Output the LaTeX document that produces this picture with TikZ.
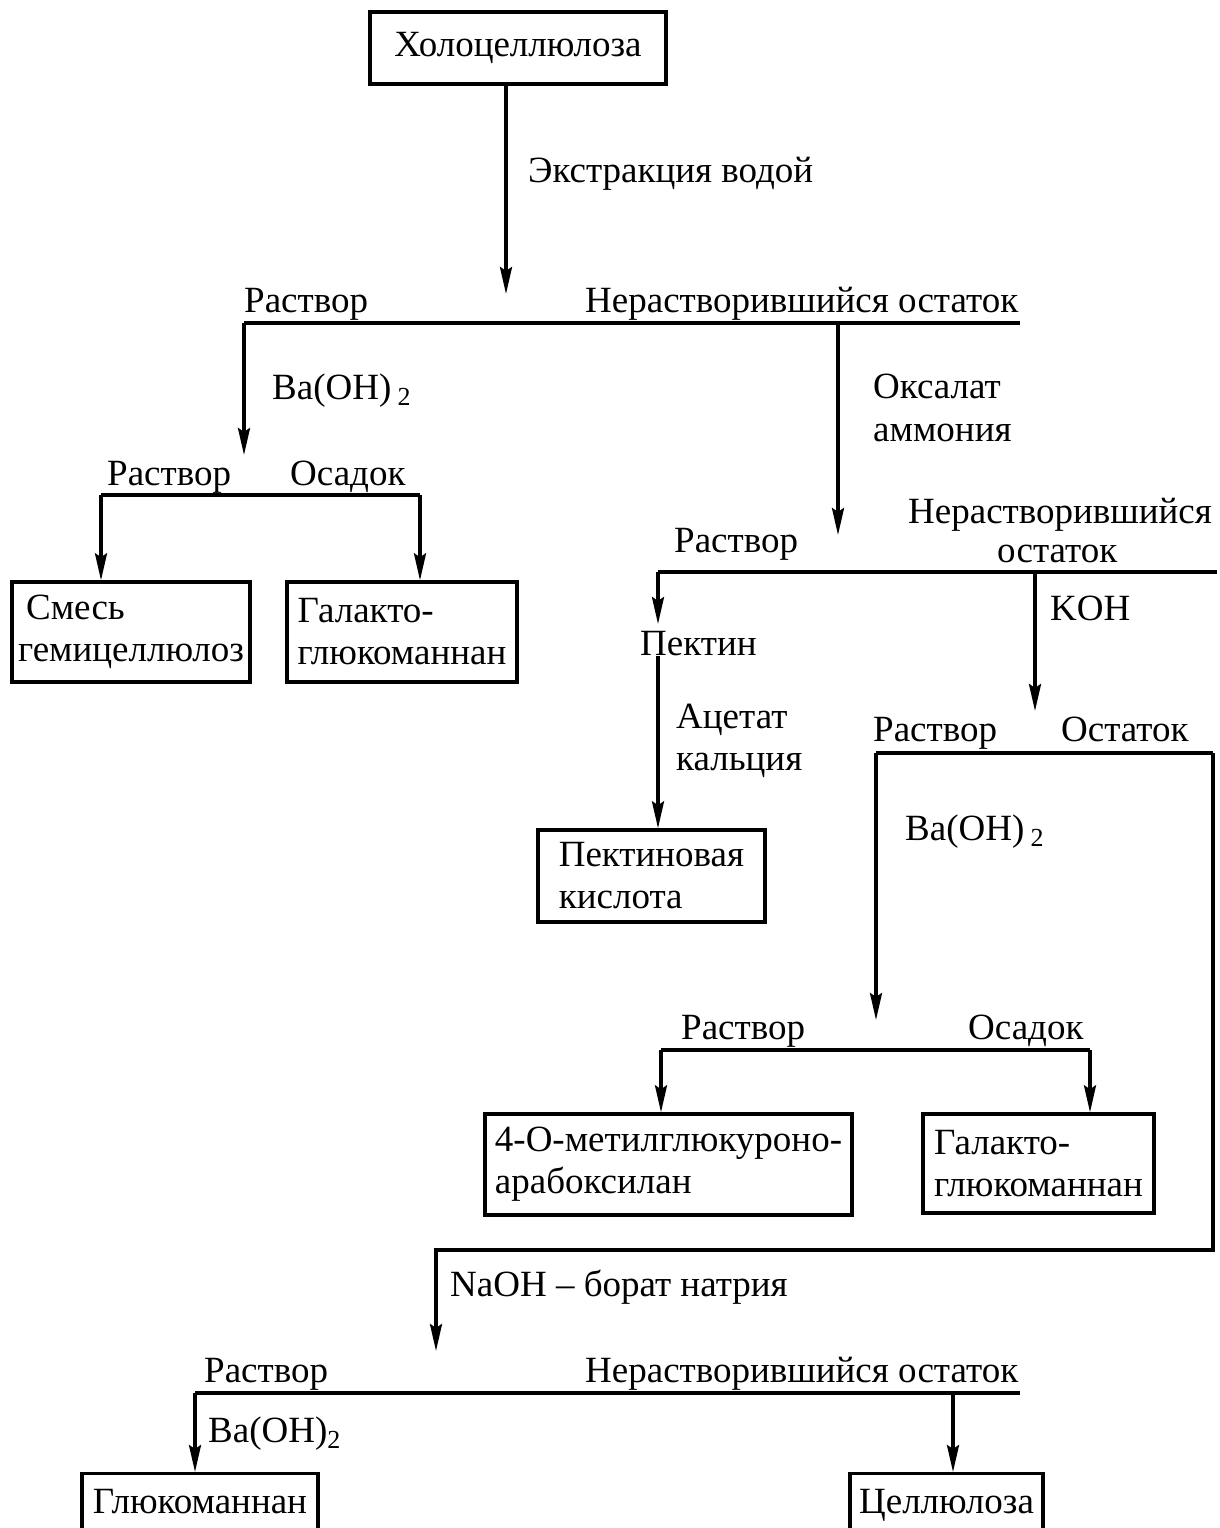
\documentclass[tikz,border=0pt]{standalone}
\usepackage{fontspec}
\setmainfont{Liberation Serif}
\usetikzlibrary{arrows.meta}
\newcommand{\subtwo}{\raisebox{-0.4ex}{\fontsize{26}{28}\selectfont 2}}
\begin{document}
\begin{tikzpicture}[x=1pt,y=-1pt,
  font=\fontsize{37}{42}\selectfont,
  box/.style={draw, line width=3.4pt, rectangle, inner sep=0pt, align=left},
  lbl/.style={anchor=base west, inner sep=0pt},
  wire/.style={line width=3.4pt},
  arr/.style={wire, -{Stealth[length=27pt,width=12pt,inset=4pt]}},
  open/.style={box, anchor=north, inner ysep=0pt, text height=40pt, text depth=60pt}]
\clip (0,0) rectangle (1219,1528);

% ---- boxes ----
\node[box, minimum width=296pt, minimum height=72pt] (holo) at (518,48) {Холоцеллюлоза};
\node[box, minimum width=238pt, minimum height=100pt] (mix) at (131,632) {\hspace{8pt}Смесь\\гемицеллюлоз};
\node[box, minimum width=230pt, minimum height=100pt] (gal1) at (402,632) {Галакто-\\глюкоманнан};
\node[box, minimum width=227pt, minimum height=92pt] (pect) at (651.5,876) {Пектиновая\\кислота};
\node[box, minimum width=367pt, minimum height=101pt] (arab) at (668.5,1164.5) {4-О-метилглюкуроно-\\арабоксилан};
\node[box, minimum width=231pt, minimum height=99pt] (gal2) at (1038.5,1163.5) {Галакто-\\глюкоманнан};
\node[open, minimum width=236pt] (gluc) at (200,1472) {Глюкоманнан};
\node[open, minimum width=193pt] (cell) at (946.5,1472) {Целлюлоза};

% ---- labels ----
\node[lbl] (ext) at (528,182) {Экстракция водой};
\node[lbl] (r1) at (244,312) {Раствор};
\node[lbl] (n1) at (585,312) {Нерастворившийся остаток};
\node[lbl] (ba1) at (272,399) {Ba(OH)\,\subtwo};
\node[lbl] (ox1) at (873,398) {Оксалат};
\node[lbl] (ox2) at (873,441) {аммония};
\node[lbl] (r2) at (107,485) {Раствор};
\node[lbl] (s2) at (290,485) {Осадок};
\node[lbl] (r3) at (674,552) {Раствор};
\node[lbl] (n3a) at (908,523) {Нерастворившийся};
\node[lbl] (n3b) at (997,562) {остаток};
\node[lbl] (koh) at (1050,620) {KOH};
\node[lbl] (pek) at (640,655) {Пектин};
\node[lbl] (ac1) at (676,728) {Ацетат};
\node[lbl] (ac2) at (676,770) {кальция};
\node[lbl] (r4) at (873,741) {Раствор};
\node[lbl] (o4) at (1061,741) {Остаток};
\node[lbl] (ba2) at (905,840) {Ba(OH)\,\subtwo};
\node[lbl] (r5) at (681,1039) {Раствор};
\node[lbl] (s5) at (968,1039) {Осадок};
\node[lbl] (naoh) at (450,1296) {NaOH – борат натрия};
\node[lbl] (r6) at (204,1382) {Раствор};
\node[lbl] (n6) at (585,1382) {Нерастворившийся остаток};
\node[lbl] (ba3) at (208,1442) {Ba(OH)\subtwo};

% ---- junction points ----
\coordinate (t1) at (506,294);
\coordinate (b1l) at (244,323);  \coordinate (b1r) at (1020,323);
\coordinate (t1l) at (244,455);
\coordinate (b1m) at (838,323);  \coordinate (t1m) at (838,535);
\coordinate (b2l) at (101,495);  \coordinate (b2r) at (420,495);
\coordinate (b3l) at (658,572);  \coordinate (b3r) at (1217,572);
\coordinate (t3l) at (658,624);
\coordinate (b3m) at (1035,572); \coordinate (t3m) at (1035,711);
\coordinate (b4l) at (876,753);  \coordinate (b4r) at (1213,753);
\coordinate (t4l) at (876,1020);
\coordinate (c4) at (1213,1250); \coordinate (c4b) at (436,1250);
\coordinate (t4b) at (436,1351);
\coordinate (b5l) at (661,1050); \coordinate (b5r) at (1090,1050);
\coordinate (b6l) at (195,1393); \coordinate (b6r) at (1020,1393);
\coordinate (b6m) at (953,1393);

% ---- connectors ----
\draw[arr] (holo.south -| t1) -- (t1);
\draw[wire] (b1l) -- (b1r);
\draw[arr] (b1l) -- (t1l);
\draw[arr] (b1m) -- (t1m);

\draw[wire] (b2l) -- (b2r);
\draw[arr] (b2l) -- (b2l |- mix.north);
\draw[arr] (b2r) -- (b2r |- gal1.north);

\draw[wire] (b3l) -- (b3r);
\draw[arr] (b3l) -- (t3l);
\draw[arr] (pek.south -| b3l) -- (b3l |- pect.north);
\draw[arr] (b3m) -- (t3m);

\draw[wire] (b4l) -- (b4r);
\draw[arr] (b4l) -- (t4l);
\draw[arr] (b4r) -- (c4) -- (c4b) -- (t4b);

\draw[wire] (b5l) -- (b5r);
\draw[arr] (b5l) -- (b5l |- arab.north);
\draw[arr] (b5r) -- (b5r |- gal2.north);

\draw[wire] (b6l) -- (b6r);
\draw[arr] (b6l) -- (b6l |- gluc.north);
\draw[arr] (b6m) -- (b6m |- cell.north);
\end{tikzpicture}
\end{document}
